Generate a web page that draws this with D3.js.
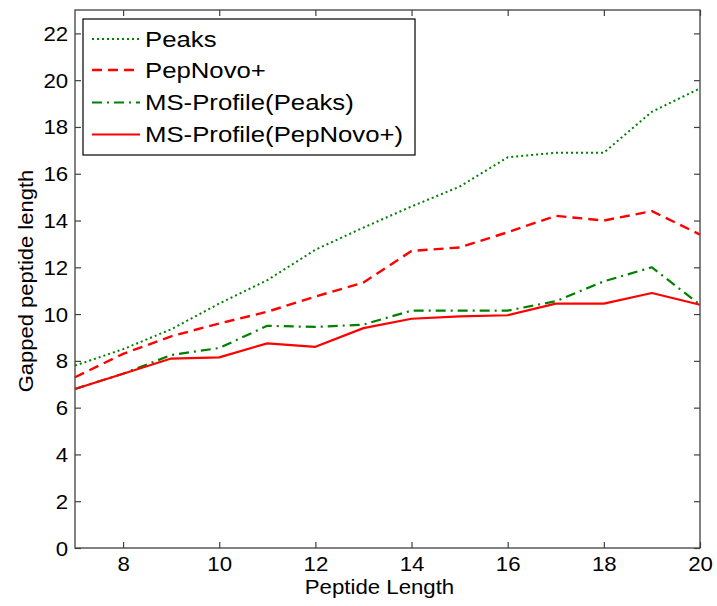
<!DOCTYPE html>
<html>
<head>
<meta charset="utf-8">
<script src="https://cdn.jsdelivr.net/npm/d3@7"></script>
<style>
html, body { margin: 0; padding: 0; background: #fff; }
svg { display: block; }
text { font-family: "Liberation Sans", Arial, Helvetica, sans-serif; fill: #000; }
</style>
</head>
<body>
<svg id="chart" width="717" height="606"></svg>
<script>
// ---- data ----
const peptideLength = [7, 8, 9, 10, 11, 12, 13, 14, 15, 16, 17, 18, 19, 20];
const peaks = [7.8, 8.5, 9.35, 10.45, 11.45, 12.75, 13.7, 14.6, 15.45, 16.7, 16.9, 16.9, 18.65, 19.65];
const pepNovo = [7.3, 8.3, 9.05, 9.6, 10.1, 10.75, 11.35, 12.7, 12.85, 13.5, 14.2, 14.0, 14.4, 13.4];
const msProfilePeaks = [6.8, 7.45, 8.25, 8.55, 9.5, 9.45, 9.55, 10.15, 10.15, 10.15, 10.55, 11.4, 12.0, 10.4];
const msProfilePepNovo = [6.8, 7.45, 8.1, 8.15, 8.75, 8.6, 9.4, 9.8, 9.9, 9.95, 10.45, 10.45, 10.9, 10.4];
const seriesNames = ["Peaks", "PepNovo+", "MS-Profile(Peaks)", "MS-Profile(PepNovo+)"];
const xTicks = [8, 10, 12, 14, 16, 18, 20];
const yTicks = [0, 2, 4, 6, 8, 10, 12, 14, 16, 18, 20, 22];
const xTitle = "Peptide Length";
const yTitle = "Gapped peptide length";

// ---- layout ----
const svg = d3.select("#chart");
const L = 75, R = 700, T = 10, B = 548;
const SX = 1.14; // horizontal text stretch

const x = d3.scaleLinear().domain([7, 20]).range([L, R]);
const y = d3.scaleLinear().domain([0, 23]).range([B, T]);

const styles = [
  { color: "#008000", width: 2, dash: "2,3" },
  { color: "#ff0000", width: 2.4, dash: "10,6" },
  { color: "#008000", width: 2.2, dash: "10,5,2,5" },
  { color: "#ff0000", width: 2.2, dash: null }
];
const seriesData = [peaks, pepNovo, msProfilePeaks, msProfilePepNovo];

// frame
svg.append("rect").attr("x", L).attr("y", T).attr("width", R - L).attr("height", B - T)
  .attr("fill", "#fff").attr("stroke", "#404040").attr("stroke-width", 1.3);

function styleAxis(g, hideLabels) {
  g.select(".domain").remove();
  g.selectAll(".tick line").attr("stroke", "#404040").attr("stroke-width", 1.2);
  g.selectAll(".tick text").attr("font-size", 19.5)
    .attr("font-family", "Liberation Sans, Arial, sans-serif").attr("fill", "#000");
  if (hideLabels) g.selectAll(".tick text").remove();
}

const gx = svg.append("g").attr("transform", `translate(0,${B})`)
  .call(d3.axisBottom(x).tickValues(xTicks).tickSize(-6).tickPadding(9).tickFormat(d3.format("d")));
styleAxis(gx, false);
gx.selectAll(".tick text").attr("transform", `scale(${SX},1)`);

const gxt = svg.append("g").attr("transform", `translate(0,${T})`)
  .call(d3.axisTop(x).tickValues(xTicks).tickSize(-6));
styleAxis(gxt, true);

const gy = svg.append("g").attr("transform", `translate(${L},0)`)
  .call(d3.axisLeft(y).tickValues(yTicks).tickSize(-6).tickPadding(6).tickFormat(d3.format("d")));
styleAxis(gy, false);
gy.selectAll(".tick text").attr("transform", `scale(${SX},1)`).attr("dy", "0.36em");

const gyr = svg.append("g").attr("transform", `translate(${R},0)`)
  .call(d3.axisRight(y).tickValues(yTicks).tickSize(-6));
styleAxis(gyr, true);

// lines
const line = d3.line().x((d, i) => x(peptideLength[i])).y(d => y(d));
seriesData.forEach((s, k) => {
  const p = svg.append("path").datum(s)
    .attr("d", line)
    .attr("fill", "none")
    .attr("stroke", styles[k].color)
    .attr("stroke-width", styles[k].width)
    .attr("stroke-linejoin", "round");
  if (styles[k].dash) p.attr("stroke-dasharray", styles[k].dash);
});

// axis titles
svg.append("text").attr("transform", `translate(${(L + R) / 2 - 8},594) scale(${SX},1)`)
  .attr("text-anchor", "middle").attr("font-size", 19.5).text(xTitle);
svg.append("text").attr("transform", `translate(33,${(T + B) / 2 + 2}) rotate(-90) scale(${1.1},1)`)
  .attr("text-anchor", "middle").attr("font-size", 20).text(yTitle);

// legend
const lg = svg.append("g");
lg.append("rect").attr("x", 83).attr("y", 19).attr("width", 332).attr("height", 136)
  .attr("fill", "#fff").attr("stroke", "#000").attr("stroke-width", 1.2);
const rowY = [39, 70, 102.5, 134.5];
seriesNames.forEach((name, k) => {
  const l = lg.append("line").attr("x1", 92).attr("x2", 140).attr("y1", rowY[k]).attr("y2", rowY[k])
    .attr("stroke", styles[k].color).attr("stroke-width", styles[k].width);
  if (styles[k].dash) l.attr("stroke-dasharray", styles[k].dash);
  lg.append("text").attr("transform", `translate(145,${rowY[k] + 7.5}) scale(1.17,1)`)
    .attr("font-size", 22).text(name);
});
</script>
</body>
</html>
